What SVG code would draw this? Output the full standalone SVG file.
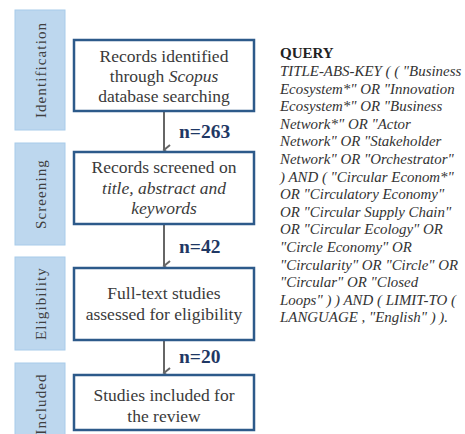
<svg xmlns="http://www.w3.org/2000/svg" width="465" height="434" viewBox="0 0 465 434">
<style>
.bar{fill:#BDD7EE;stroke:#A8CBEA;stroke-width:1}
.stage{font-size:15px;fill:#404040;letter-spacing:1.1px;text-anchor:middle}
.box{fill:#fff;stroke:#2D5A8A;stroke-width:2.5}
.bt{font-size:17.5px;fill:#3a3a3a;text-anchor:middle}
.n{font-size:19.5px;font-weight:bold;fill:#1F3864}
.q{font-size:14.9px;fill:#333;font-style:italic}
.qh{font-size:15px;fill:#222;font-weight:bold}
.conn{stroke:#666;stroke-width:2;fill:none}
</style>
<defs>
<marker id="ah" markerWidth="12" markerHeight="12" refX="6" refY="8" orient="auto" markerUnits="userSpaceOnUse" viewBox="0 0 12 12">
<path d="M1,2 L6,8 L11,2" fill="none" stroke="#666" stroke-width="2"/>
</marker>
</defs>
<g font-family="Liberation Serif, Times New Roman, serif">
<g id="stage-identification">
<rect class="bar" x="15" y="10" width="50" height="120"/>
<text class="stage" transform="translate(46,70) rotate(-90)">Identification</text>
</g>
<g id="stage-screening">
<rect class="bar" x="15" y="143" width="50" height="102"/>
<text class="stage" transform="translate(46,194) rotate(-90)">Screening</text>
</g>
<g id="stage-eligibility">
<rect class="bar" x="15" y="257" width="50" height="93"/>
<text class="stage" transform="translate(46,303.5) rotate(-90)">Eligibility</text>
</g>
<g id="stage-included">
<rect class="bar" x="15" y="363" width="50" height="80"/>
<text class="stage" transform="translate(46,404) rotate(-90)">Included</text>
</g>
<g id="connectors">
<line class="conn" x1="164" y1="112" x2="164" y2="150" marker-end="url(#ah)"/>
<line class="conn" x1="164" y1="225" x2="164" y2="266" marker-end="url(#ah)"/>
<line class="conn" x1="164" y1="341" x2="164" y2="373" marker-end="url(#ah)"/>
<text class="n" x="179" y="138">n=263</text>
<text class="n" x="179" y="253">n=42</text>
<text class="n" x="179" y="363">n=20</text>
</g>
<g id="box-identified">
<rect class="box" x="74" y="40" width="180" height="71"/>
<text class="bt" x="164" y="62">Records identified</text>
<text class="bt" x="164" y="82">through <tspan font-style="italic">Scopus</tspan></text>
<text class="bt" x="164" y="102">database searching</text>
</g>
<g id="box-screened">
<rect class="box" x="74" y="152" width="180" height="72"/>
<text class="bt" x="164" y="173">Records screened on</text>
<text class="bt" x="164" y="193.5" font-style="italic">title, abstract and</text>
<text class="bt" x="164" y="213.5" font-style="italic">keywords</text>
</g>
<g id="box-fulltext">
<rect class="box" x="74" y="268" width="180" height="72"/>
<text class="bt" x="164" y="299">Full-text studies</text>
<text class="bt" x="164" y="320">assessed for eligibility</text>
</g>
<g id="box-included">
<rect class="box" x="74" y="375" width="180" height="55"/>
<text class="bt" x="164" y="400.5">Studies included for</text>
<text class="bt" x="164" y="421.5">the review</text>
</g>
<g id="query">
<text class="qh" x="280" y="58">QUERY</text>
<text class="q" x="280" y="76">TITLE-ABS-KEY ( ( "Business</text>
<text class="q" x="280" y="93.6">Ecosystem*" OR "Innovation</text>
<text class="q" x="280" y="111.2">Ecosystem*" OR "Business</text>
<text class="q" x="280" y="128.8">Network*" OR "Actor</text>
<text class="q" x="280" y="146.4">Network" OR "Stakeholder</text>
<text class="q" x="280" y="164">Network" OR "Orchestrator"</text>
<text class="q" x="280" y="181.6">) AND ( "Circular Econom*"</text>
<text class="q" x="280" y="199.2">OR "Circulatory Economy"</text>
<text class="q" x="280" y="216.8">OR "Circular Supply Chain"</text>
<text class="q" x="280" y="234.4">OR "Circular Ecology" OR</text>
<text class="q" x="280" y="252">"Circle Economy" OR</text>
<text class="q" x="280" y="269.6">"Circularity" OR "Circle" OR</text>
<text class="q" x="280" y="287.2">"Circular" OR "Closed</text>
<text class="q" x="280" y="304.8">Loops" ) ) AND ( LIMIT-TO (</text>
<text class="q" x="280" y="322.4">LANGUAGE , "English" ) ).</text>
</g>
</g>
</svg>
